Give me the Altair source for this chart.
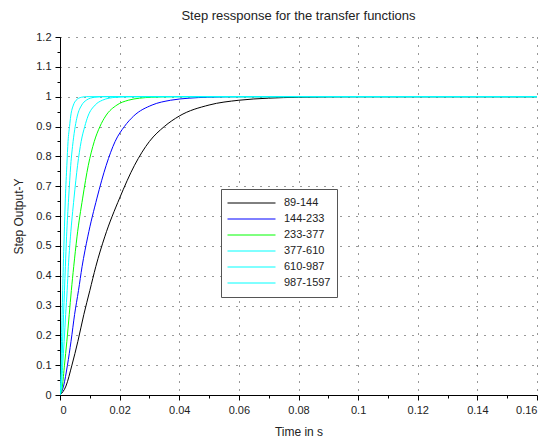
import altair as alt
import pandas as pd

series_names = ["89-144", "144-233", "233-377", "377-610", "610-987", "987-1597"]
series_colors = ["#000000", "#0000ff", "#00ff00", "#00ffff", "#00ffff", "#00ffff"]

# step response values (shared shape)
y_vals = [0, 0.03, 0.10, 0.18, 0.27, 0.35, 0.43, 0.53, 0.66, 0.77, 0.85, 0.90, 0.935, 0.972, 0.988, 0.995, 0.998, 1.0, 1.0]

t_89_144 = [0, .002, .004, .006, .008, .010, .012, .015, .020, .025, .030, .035, .040, .050, .060, .070, .080, .100, .160]
t_144_233 = [0, .0012, .0025, .0037, .0049, .0062, .0074, .0093, .0124, .0155, .0185, .0216, .0247, .0309, .0371, .0433, .0494, .0618, .160]
t_233_377 = [0, .0008, .0015, .0023, .0031, .0038, .0046, .0057, .0076, .0095, .0115, .0134, .0153, .0191, .0229, .0267, .0306, .0382, .160]
t_377_610 = [0, .0005, .0009, .0014, .0019, .0024, .0028, .0035, .0047, .0059, .0071, .0083, .0094, .0118, .0142, .0165, .0189, .0236, .160]
t_610_987 = [0, .0003, .0006, .0009, .0012, .0015, .0018, .0022, .0029, .0036, .0044, .0051, .0058, .0073, .0088, .0102, .0117, .0146, .160]
t_987_1597 = [0, .0002, .0004, .0005, .0007, .0009, .0011, .0014, .0018, .0023, .0027, .0032, .0036, .0045, .0054, .0063, .0072, .0090, .160]

x_ticks = [round(i * 0.01, 2) for i in range(17)]
y_ticks = [round(i * 0.05, 2) for i in range(25)]

times = [t_89_144, t_144_233, t_233_377, t_377_610, t_610_987, t_987_1597]
rows = []
for k, (name, ts) in enumerate(zip(series_names, times)):
    for i, (t, y) in enumerate(zip(ts, y_vals)):
        rows.append({"series": name, "t": t, "y": y, "k": k, "i": i})
df = pd.DataFrame(rows)

FONT = "Liberation Sans"

x_axis = alt.Axis(
    values=x_ticks,
    title="Time in s",
    labelExpr="round(datum.value*100) % 2 == 0 ? format(datum.value, '~g') : ''",
    tickSize={"condition": {"test": "round(datum.value*100) % 2 == 0", "value": 5}, "value": 3},
    gridOpacity={"condition": {"test": "round(datum.value*100) % 2 == 0", "value": 1}, "value": 0},
    grid=True,
    titlePadding=11,
)
y_axis = alt.Axis(
    values=y_ticks,
    title="Step Output-Y",
    labelExpr="round(datum.value*100) % 10 == 0 ? format(datum.value, '~g') : ''",
    tickSize={"condition": {"test": "round(datum.value*100) % 10 == 0", "value": 5}, "value": 3},
    gridOpacity={"condition": {"test": "round(datum.value*100) % 10 == 0", "value": 1}, "value": 0},
    grid=True,
    titlePadding=10,
)

chart = alt.Chart(df).mark_line(strokeWidth=1, interpolate="monotone", clip=True).encode(
    x=alt.X("t:Q", scale=alt.Scale(domain=[0, 0.16], nice=False, zero=False), axis=x_axis),
    y=alt.Y("y:Q", scale=alt.Scale(domain=[0, 1.2], nice=False), axis=y_axis),
    color=alt.Color(
        "series:N",
        scale=alt.Scale(domain=series_names, range=series_colors),
        sort=series_names,
        legend=alt.Legend(
            title=None,
            orient="none",
            legendX=161,
            legendY=152,
            symbolType="stroke",
            symbolSize=2304,
            symbolStrokeWidth=1,
            clipHeight=16,
            rowPadding=0,
            labelOffset=8,
            padding=6,
            strokeColor="#555555",
            fillColor="#ffffff",
            labelFont=FONT,
            labelFontSize=11,
            labelColor="#222222",
        ),
    ),
    detail="k:O",
    order="i:Q",
).properties(
    width=477,
    height=358,
    title=alt.TitleParams("Step ressponse for the transfer functions", font=FONT, fontSize=13,
                          fontWeight="normal", color="#222222", anchor="middle", offset=8),
    autosize=alt.AutoSizeParams(type="none"),
    padding={"left": 52, "top": 29, "right": 8, "bottom": 46},
).configure_view(strokeWidth=0).configure_axis(
    domainColor="#000000",
    tickColor="#000000",
    labelFont=FONT,
    labelFontSize=11,
    labelColor="#222222",
    titleFont=FONT,
    titleFontSize=12,
    titleFontWeight="normal",
    titleColor="#222222",
    gridColor="#333333",
    gridDash=[1, 7],
    gridWidth=1,
    labelPadding=4,
)

chart.save("out.html", embed_options={"renderer": "svg", "actions": False})
